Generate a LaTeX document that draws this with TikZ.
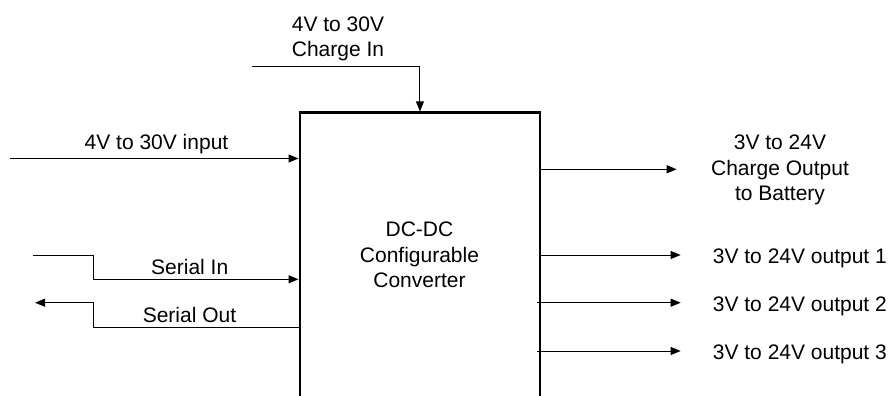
\documentclass[tikz,border=0pt]{standalone}
\usepackage{fontspec}
\setmainfont{Liberation Sans}
\usetikzlibrary{arrows.meta}
\tikzset{
  lbl/.style={inner sep=0pt, align=center, font=\fontsize{21}{25.3}\selectfont},
  arr/.style={line width=1pt, -{Triangle[length=10pt,width=8pt]}},
  blockbox/.style={draw, line width=2.2pt, minimum width=240.7pt, minimum height=300pt, inner sep=0pt}
}
\begin{document}
\begin{tikzpicture}[x=1pt,y=-1pt]
\useasboundingbox (0,0) rectangle (892,396);
\clip (0,0) rectangle (892,396);
% main block (bottom edge lies outside the picture)
\node[blockbox] (box) at (419.95,262.5) {};
\node[lbl, anchor=north] (boxtext) at (419.5,222) {DC-DC\\Configurable\\Converter};
% charge in
\coordinate (chstart) at (251.7,66.7);
\coordinate (chcorner) at (box.north |- chstart);
\draw[arr] (chstart) -- (chcorner) -- (box.north);
\node[lbl, anchor=north] (chinlab) at (338,16.3) {4V to 30V\\Charge In};
% input
\coordinate (instart) at (10,158.5);
\draw[arr] (instart) -- (instart -| box.west);
\node[lbl, anchor=north] (inlab) at (156.5,134.3) {4V to 30V input};
% serial in
\coordinate (sistart) at (33,255.7);
\coordinate (sicorner) at (93,279.3);
\draw[arr] (sistart) -| (sicorner) -- (sicorner -| box.west);
\node[lbl, anchor=north] (silab) at (189.7,259.3) {Serial In};
% serial out
\coordinate (socorner) at (93,327.7);
\coordinate (soend) at (35,302.7);
\draw[arr] (socorner -| box.west) -- (socorner) |- (soend);
\node[lbl, anchor=north] (solab) at (189.5,306.7) {Serial Out};
% charge output
\coordinate (cotip) at (676.7,169.3);
\draw[arr] (cotip -| box.east) -- (cotip);
\node[lbl, anchor=north] (colab) at (780,135) {3V to 24V\\Charge Output\\to Battery};
% outputs
\coordinate (o1tip) at (680.7,255);
\coordinate (o2tip) at (680.7,302.7);
\coordinate (o3tip) at (680.7,351);
\draw[arr] (o1tip -| box.east) -- (o1tip);
\draw[arr] (o2tip -| box.east) ++(-4,0) -- (o2tip);
\draw[arr] (o3tip -| box.east) ++(-4,0) -- (o3tip);
\node[lbl, anchor=north west] (o1lab) at (712.7,248.2) {3V to 24V output 1};
\node[lbl, anchor=north west] (o2lab) at (712.7,296.4) {3V to 24V output 2};
\node[lbl, anchor=north west] (o3lab) at (712.7,344.6) {3V to 24V output 3};
\end{tikzpicture}
\end{document}
